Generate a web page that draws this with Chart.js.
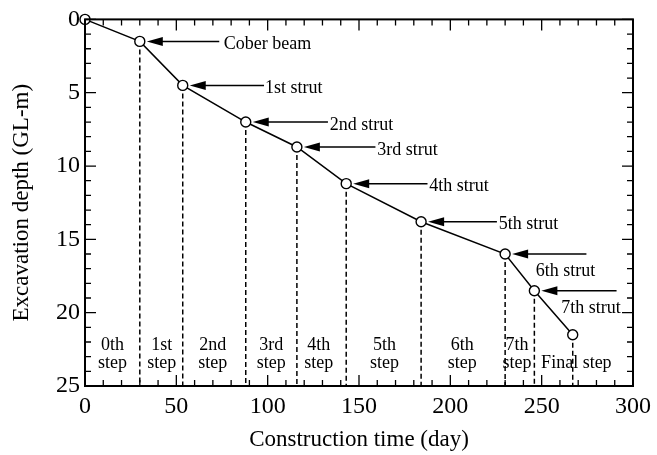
<!DOCTYPE html>
<html>
<head>
<meta charset="utf-8">
<script src="https://cdn.jsdelivr.net/npm/chart.js@4"></script>
<style>
  html, body { margin: 0; padding: 0; background: #fff; }
</style>
</head>
<body>
<canvas id="chart" width="657" height="455"></canvas>
<script>
// excavation history
const days = [0, 30, 53.5, 88, 116, 143, 184, 230, 246, 267];
const depths = [0, 1.5, 4.5, 7, 8.7, 11.2, 13.8, 16, 18.5, 21.5];

// strut annotations (arrow points at days[i + 1])
const strutNames = ["Cober beam", "1st strut", "2nd strut", "3rd strut", "4th strut", "5th strut", "6th strut", "7th strut"];
const arrowTails = [73.5, 98, 133, 159, 187.5, 225.5, 274.5, 291];
const strutLabelDays = [76, 98.5, 134, 160, 188.5, 226.5, 263, 277];
const strutLabelDepths = [1.7, 4.7, 7.2, 8.9, 11.4, 14, 17.2, 19.7];

// step labels along the bottom
const stepNames = [["0th", "step"], ["1st", "step"], ["2nd", "step"], ["3rd", "step"], ["4th", "step"],
  ["5th", "step"], ["6th", "step"], ["7th", "step"], ["Final step"]];
const stepCenters = [15, 42, 70, 102, 128, 164, 206.5, 236.5, 269];
const stepDepths = [22.2, 23.45];

const X_MAX = 300;
const Y_MAX = 25;
const FONT = "'Liberation Serif', 'Times New Roman', serif";

const dropLines = days.slice(1).map((d, i) => ({
  data: [{ x: d, y: depths[i + 1] }, { x: d, y: Y_MAX }],
  borderColor: "#000",
  borderWidth: 1.5,
  borderDash: [5, 3],
  pointRadius: 0,
  showLine: true,
  order: 2,
}));

const decorations = {
  id: "decorations",
  afterDatasetsDraw(chart) {
    const { ctx, chartArea: a, scales: { x, y } } = chart;
    ctx.save();
    ctx.strokeStyle = "#000";
    ctx.fillStyle = "#000";

    // frame
    ctx.lineWidth = 2;
    ctx.strokeRect(a.left, a.top, a.right - a.left, a.bottom - a.top);

    // inward ticks on all four sides
    ctx.lineWidth = 1.3;
    ctx.beginPath();
    for (let v = 0; v <= X_MAX; v += 10) {
      const px = x.getPixelForValue(v);
      const len = v % 50 === 0 ? 11 : 6;
      ctx.moveTo(px, a.bottom); ctx.lineTo(px, a.bottom - len);
      ctx.moveTo(px, a.top); ctx.lineTo(px, a.top + len);
    }
    for (let v = 0; v <= Y_MAX; v += 1) {
      const py = y.getPixelForValue(v);
      const len = v % 5 === 0 ? 11 : 6;
      ctx.moveTo(a.left, py); ctx.lineTo(a.left + len, py);
      ctx.moveTo(a.right, py); ctx.lineTo(a.right - len, py);
    }
    ctx.stroke();

    // arrows to each strut point
    ctx.lineWidth = 1.5;
    strutNames.forEach((name, i) => {
      const tipX = x.getPixelForValue(days[i + 1]) + 7;
      const py = y.getPixelForValue(depths[i + 1]);
      const tailX = x.getPixelForValue(arrowTails[i]);
      ctx.beginPath();
      ctx.moveTo(tipX + 12, py);
      ctx.lineTo(tailX, py);
      ctx.stroke();
      ctx.beginPath();
      ctx.moveTo(tipX, py);
      ctx.lineTo(tipX + 16, py - 4.5);
      ctx.lineTo(tipX + 16, py + 4.5);
      ctx.closePath();
      ctx.fill();

      ctx.font = `18px ${FONT}`;
      ctx.textBaseline = "middle";
      ctx.textAlign = i < 6 ? "left" : "center";
      ctx.fillText(name, x.getPixelForValue(strutLabelDays[i]), y.getPixelForValue(strutLabelDepths[i]));
    });

    // step labels
    ctx.font = `18px ${FONT}`;
    ctx.textAlign = "center";
    ctx.textBaseline = "middle";
    stepNames.forEach((lines, i) => {
      const px = x.getPixelForValue(stepCenters[i]);
      const offset = stepDepths.length - lines.length;
      lines.forEach((line, j) => {
        ctx.fillText(line, px, y.getPixelForValue(stepDepths[j + offset]));
      });
    });
    ctx.restore();
  },
};

new Chart(document.getElementById("chart"), {
  type: "scatter",
  data: {
    datasets: [
      {
        data: days.map((d, i) => ({ x: d, y: depths[i] })),
        showLine: true,
        clip: false,
        borderColor: "#000",
        borderWidth: 1.5,
        pointRadius: 5,
        pointBorderWidth: 1.4,
        pointBackgroundColor: "#fff",
        pointBorderColor: "#000",
        order: 0,
      },
      ...dropLines,
    ],
  },
  options: {
    responsive: false,
    animation: false,
    devicePixelRatio: 1,
    layout: { padding: { top: 18, right: 20, left: 0, bottom: 0 } },
    plugins: { legend: { display: false }, tooltip: { enabled: false } },
    scales: {
      x: {
        type: "linear",
        min: 0,
        max: X_MAX,
        grid: { display: false, drawTicks: false },
        border: { display: false },
        ticks: { stepSize: 50, color: "#000", padding: 6, font: { family: FONT, size: 24 } },
        title: {
          display: true,
          text: "Construction time (day)",
          color: "#000",
          font: { family: FONT, size: 23 },
          padding: { top: 0, bottom: 1 },
        },
        afterFit(scale) { scale.height = 69; },
      },
      y: {
        type: "linear",
        min: 0,
        max: Y_MAX,
        reverse: true,
        grid: { display: false, drawTicks: false },
        border: { display: false },
        ticks: { stepSize: 5, color: "#000", padding: 5, font: { family: FONT, size: 24 } },
        title: {
          display: true,
          text: "Excavation depth (GL-m)",
          color: "#000",
          font: { family: FONT, size: 23 },
          padding: { top: 8, bottom: 0 },
        },
        afterFit(scale) { scale.width = 85; },
      },
    },
  },
  plugins: [decorations],
});
</script>
</body>
</html>
